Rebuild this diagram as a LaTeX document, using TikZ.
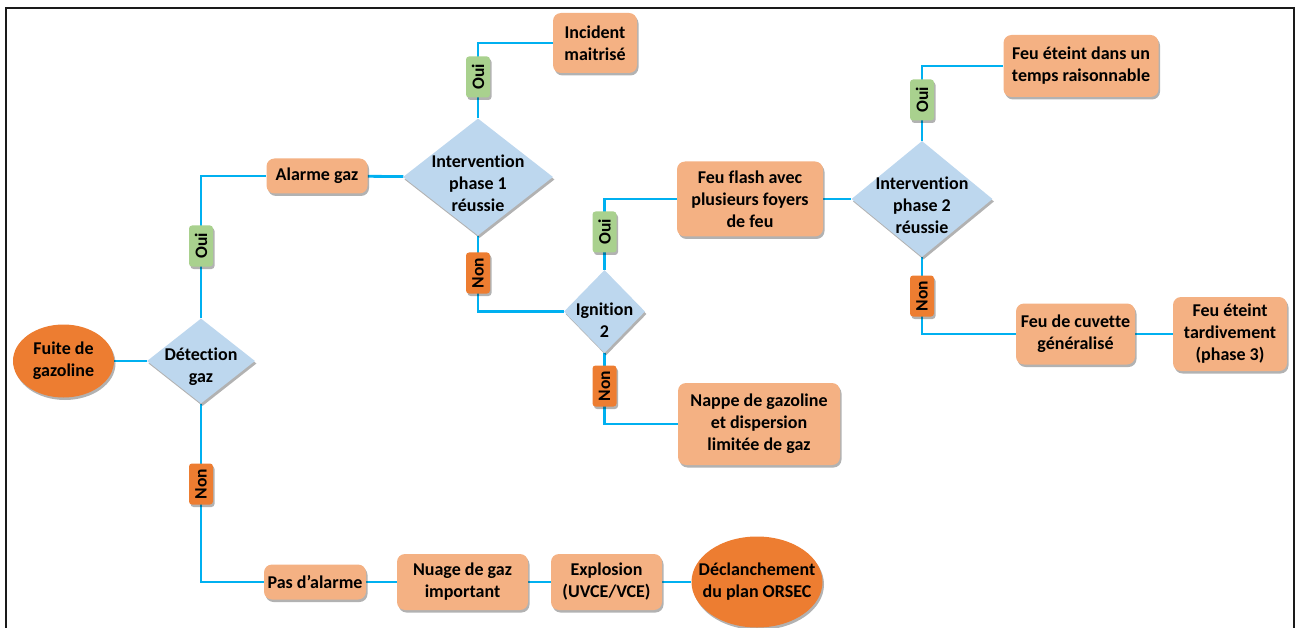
\documentclass[tikz,border=0pt]{standalone}
\usepackage{fontspec}
\setmainfont[Ligatures=NoCommon]{Carlito}
\usepackage{tikz}
\usetikzlibrary{shapes.geometric,shadows,backgrounds}
\definecolor{boxfill}{HTML}{F4B183}
\definecolor{termfill}{HTML}{ED7D31}
\definecolor{decfill}{HTML}{BDD7EE}
\definecolor{yesfill}{HTML}{A9D18E}
\definecolor{nofill}{HTML}{ED7D31}
\definecolor{wire}{HTML}{00B0F0}
\definecolor{frameink}{HTML}{1A1A1A}
\tikzset{
  softshadow/.style={drop shadow={shadow xshift=1.5pt,shadow yshift=-2.5pt,
                     opacity=0.3,fill=black}},
  event/.style={fill=boxfill,rounded corners=8pt,align=center,inner sep=2pt,
                font=\fontsize{18}{22}\selectfont\bfseries,softshadow},
  terminal/.style={ellipse,fill=termfill,align=center,inner sep=0pt,
                   font=\fontsize{18}{22}\selectfont\bfseries,softshadow},
  decision/.style={diamond,fill=decfill,inner sep=0pt,softshadow},
  dectext/.style={align=center,inner sep=0pt,
                  font=\fontsize{18}{22}\selectfont\bfseries},
  answer/.style={rotate=90,rounded corners=3pt,minimum width=41pt,
                 minimum height=24pt,inner sep=0pt,
                 font=\fontsize{17.5}{20}\selectfont\bfseries,softshadow},
  oui/.style={answer,fill=yesfill},
  non/.style={answer,fill=nofill},
  wirelink/.style={draw=wire,line width=2.8pt}
}

\begin{document}
\begin{tikzpicture}[x=1pt,y=-1pt]
  \useasboundingbox (0,0) rectangle (1300,628);
  % open frame
  \draw[frameink,line width=1.6pt] (6,628) -- (6,8) -- (1294,8) -- (1294,628);

  % start and decisions
  \node[terminal,minimum width=101pt,minimum height=73pt] (fuite) at (63.5,361) {Fuite de\\gazoline};
  \node[decision,minimum width=108pt,minimum height=85pt] (det) at (201,361) {};
  \node[dectext,yshift=-6pt] (det-t) at (det) {Détection\\gaz};
  \node[decision,minimum width=150pt,minimum height=117pt] (int1) at (478,177) {};
  \node[dectext,yshift=-6pt] (int1-t) at (int1) {Intervention\\phase 1\\réussie};
  \node[decision,minimum width=81pt,minimum height=83pt] (ign) at (604.5,311.5) {};
  \node[dectext,yshift=-9pt] (ign-t) at (ign) {Ignition\\2};
  \node[decision,minimum width=141pt,minimum height=116pt] (int2) at (922,199) {};
  \node[dectext,yshift=-6pt] (int2-t) at (int2) {Intervention\\phase 2\\réussie};

  % outcomes
  \node[event,minimum width=101pt,minimum height=35pt] (alarme) at (317,176) {Alarme gaz};
  \node[event,minimum width=84pt,minimum height=60pt] (incident) at (595,43) {Incident\\maitrisé};
  \node[event,minimum width=146pt,minimum height=75pt] (flash) at (750,199) {Feu flash avec\\plusieurs foyers\\de feu};
  \node[event,minimum width=155pt,minimum height=62pt] (eteint) at (1081,66) {Feu éteint dans un\\temps raisonnable};
  \node[event,minimum width=119pt,minimum height=61pt] (cuvette) at (1075.5,334) {Feu de cuvette\\généralisé};
  \node[event,minimum width=114pt,minimum height=74pt] (tardif) at (1230,334) {Feu éteint\\tardivement\\(phase 3)};
  \node[event,minimum width=162pt,minimum height=82pt] (nappe) at (759,424) {Nappe de gazoline\\et dispersion\\limitée de gaz};
  \node[event,minimum width=102pt,minimum height=35pt] (pas) at (315,582) {Pas d’alarme};
  \node[event,minimum width=131pt,minimum height=56pt] (nuage) at (462.5,582) {Nuage de gaz\\important};
  \node[event,minimum width=111pt,minimum height=56pt] (explo) at (606.5,582) {Explosion\\(UVCE/VCE)};
  \node[terminal,inner sep=-14pt,minimum width=131pt,minimum height=91pt] (orsec) at (757,582) {Déclanchement\\du plan ORSEC};

  % yes / no tags
  \node[oui] (oui1) at (201,246) {Oui};
  \node[non] (non1) at (201,484) {Non};
  \node[oui] (oui2) at (478,77) {Oui};
  \node[non] (non2) at (478,273) {Non};
  \node[oui] (oui3) at (604.5,232) {Oui};
  \node[non] (non3) at (604.5,386) {Non};
  \node[oui] (oui4) at (922,100) {Oui};
  \node[non] (non4) at (922,296) {Non};

  \begin{scope}[on background layer]
    \draw[wirelink] (fuite) -- (det);
    \draw[wirelink] (det.north) |- (alarme.west);
    \draw[wirelink] (det.south) |- (pas.west);
    \draw[wirelink] (alarme) -- (int1);
    \draw[wirelink] (int1.north) |- (incident.west);
    \draw[wirelink] (int1.south) |- (ign.west);
    \draw[wirelink] (ign.north) |- (flash.west);
    \draw[wirelink] (ign.south) |- (nappe.west);
    \draw[wirelink] (flash) -- (int2);
    \draw[wirelink] (int2.north) |- (eteint.west);
    \draw[wirelink] (int2.south) |- (cuvette.west);
    \draw[wirelink] (cuvette) -- (tardif);
    \draw[wirelink] (pas) -- (nuage);
    \draw[wirelink] (nuage) -- (explo);
    \draw[wirelink] (explo) -- (orsec);
  \end{scope}
\end{tikzpicture}
\end{document}
